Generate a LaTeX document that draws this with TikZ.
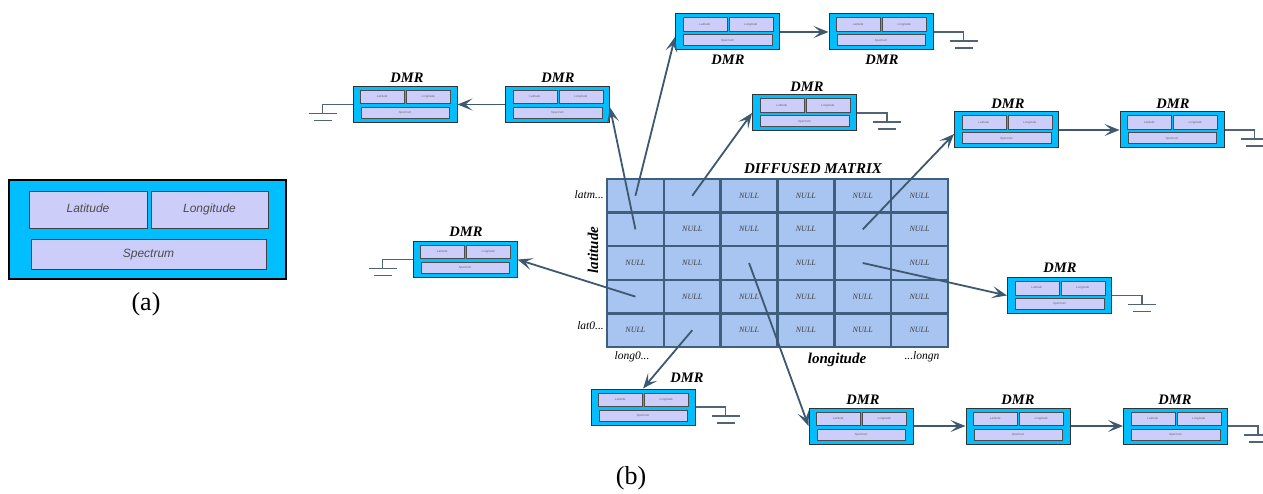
\documentclass[tikz,border=0pt]{standalone}
\usepackage{fontspec}
\setmainfont{Liberation Serif}
\setsansfont{Liberation Sans}
\usetikzlibrary{arrows.meta,calc}
\definecolor{dmrcyan}{RGB}{0,190,255}
\definecolor{dmrlav}{RGB}{205,205,250}
\definecolor{cellblue}{RGB}{168,196,240}
\definecolor{cellline}{RGB}{62,96,126}
\definecolor{arrowc}{RGB}{62,88,112}
\definecolor{gndc}{RGB}{80,100,118}
\tikzset{
 dmrbox/.style={draw=black!80, fill=dmrcyan, line width=1pt, minimum width=104pt, minimum height=36pt, inner sep=0pt},
 dmrin/.style={draw=black!70, fill=dmrlav, line width=0.5pt, inner sep=0pt, font=\sffamily\itshape\fontsize{3}{3}\selectfont, text=black!60, anchor=north west, text height=2.2pt, text depth=0.6pt},
 ain/.style={draw=black!75, fill=dmrlav, line width=0.8pt, inner sep=0pt, font=\sffamily\itshape\fontsize{12}{13}\selectfont, text=black!70, text height=8.6pt, text depth=2.4pt},
 dmrlbl/.style={font=\bfseries\itshape\fontsize{14.5}{15}\selectfont, inner sep=0pt},
 axlbl/.style={font=\bfseries\itshape\fontsize{15}{16}\selectfont, inner sep=0pt},
 smlbl/.style={font=\itshape\fontsize{11.5}{12}\selectfont, inner sep=0pt},
 cell/.style={draw=cellline, fill=cellblue, line width=2.5pt, minimum width=56.83pt, minimum height=33.6pt, inner sep=0pt, font=\itshape\fontsize{8}{9}\selectfont, text=black!75},
 conn/.style={draw=arrowc, line width=1.8pt, -{Stealth[length=15pt,width=12pt,inset=7pt]}},
 gnd/.style={draw=gndc, line width=1.1pt},
 caplbl/.style={font=\fontsize{26}{28}\selectfont, inner sep=0pt},
}
\newcommand{\dmrnode}[3]{%
 \node[dmrbox] (#1) at (#2,#3) {};
 \node[dmrin, minimum width=44pt, minimum height=13.5pt] (#1-lat) at ([xshift=7.5pt,yshift=-4pt]#1.north west) {Latitude};
 \node[dmrin, minimum width=44pt, minimum height=13.5pt] (#1-lon) at ([xshift=53.5pt,yshift=-4pt]#1.north west) {Longitude};
 \node[dmrin, minimum width=88.5pt, minimum height=11pt] (#1-spe) at ([xshift=8pt,yshift=-21pt]#1.north west) {Spectrum};
}
\newcommand{\gndR}[1]{%
 \draw[gnd] (#1.east) -- ++(30,0) coordinate (#1-g) -- ++(0,9);
 \draw[gnd] ([yshift=-9pt,xshift=-14pt]#1-g) -- ++(28,0);
 \draw[gnd] ([yshift=-16pt,xshift=-9pt]#1-g) -- ++(18,0);
}
\newcommand{\gndL}[1]{%
 \draw[gnd] (#1.west) -- ++(-30,0) coordinate (#1-g) -- ++(0,9);
 \draw[gnd] ([yshift=-9pt,xshift=-14pt]#1-g) -- ++(28,0);
 \draw[gnd] ([yshift=-16pt,xshift=-9pt]#1-g) -- ++(18,0);
}
\begin{document}
\begin{tikzpicture}[x=1pt,y=-1pt]
\useasboundingbox (0,0) rectangle (1263,494);
% (a)
\node[draw=black, line width=1.3pt, fill=dmrcyan, minimum width=277pt, minimum height=99pt, inner sep=0pt] (abox) at (147.5,229.5) {};
\node[ain, minimum width=118pt, minimum height=37pt] (alat) at (88,209.5) {Latitude};
\node[ain, minimum width=117pt, minimum height=37pt] (alon) at (209.5,209.5) {Longitude};
\node[ain, minimum width=235pt, minimum height=30pt] (aspe) at (148.5,254) {Spectrum};
\node[caplbl] (acap) at (146,304) {(a)};
\node[caplbl] (bcap) at (631,478) {(b)};
% matrix
\foreach \r/\c/\t in {1/1/{},1/2/{},1/3/NULL,1/4/NULL,1/5/NULL,1/6/NULL,
 2/1/{},2/2/NULL,2/3/NULL,2/4/NULL,2/5/{},2/6/NULL,
 3/1/NULL,3/2/NULL,3/3/{},3/4/NULL,3/5/{},3/6/NULL,
 4/1/{},4/2/NULL,4/3/NULL,4/4/NULL,4/5/NULL,4/6/NULL,
 5/1/NULL,5/2/{},5/3/NULL,5/4/NULL,5/5/NULL,5/6/NULL}
 {\node[cell] (m-\r-\c) at ({607+(\c-0.5)*56.83},{179+(\r-0.5)*33.6}) {\t};}
\node[smlbl, anchor=east] (latm) at (604,195) {latm...};
\node[smlbl, anchor=east] (lat0) at (604,326) {lat0...};
\node[axlbl, rotate=90] (latl) at (593,250) {latitude};
\node[axlbl] (dmt) at (813,169) {DIFFUSED MATRIX};
\node[smlbl] (long0) at (632,357) {long0...};
\node[axlbl] (longl) at (837,360) {longitude};
\node[smlbl] (longn) at (922,357) {...longn};
% DMR units
\dmrnode{A}{405}{104.5}
\dmrnode{B}{557.5}{104.5}
\dmrnode{C}{727.5}{32}
\dmrnode{D}{881}{32}
\dmrnode{E}{804.5}{113}
\dmrnode{F}{1006.5}{130}
\dmrnode{G}{1172}{130}
\dmrnode{H}{1059.5}{295.5}
\dmrnode{L}{465}{259.5}
\dmrnode{M}{643}{407}
\dmrnode{I}{861}{426}
\dmrnode{J}{1018}{426}
\dmrnode{K}{1175.5}{426}
% labels
\node[dmrlbl] (A-t) at (407,78) {DMR};
\node[dmrlbl] (B-t) at (558,78) {DMR};
\node[dmrlbl] (C-t) at (728,60) {DMR};
\node[dmrlbl] (D-t) at (882,60) {DMR};
\node[dmrlbl] (E-t) at (807,87) {DMR};
\node[dmrlbl] (F-t) at (1008,104) {DMR};
\node[dmrlbl] (G-t) at (1173,104) {DMR};
\node[dmrlbl] (H-t) at (1060,268) {DMR};
\node[dmrlbl] (L-t) at (466,232) {DMR};
\node[dmrlbl] (M-t) at (687,378) {DMR};
\node[dmrlbl] (I-t) at (863,400) {DMR};
\node[dmrlbl] (J-t) at (1018,400) {DMR};
\node[dmrlbl] (K-t) at (1175,400) {DMR};
% grounds
\gndL{A}
\gndR{D}
\gndR{E}
\gndR{G}
\gndR{H}
\gndL{L}
\gndR{M}
\gndR{K}
% connectors
\draw[conn] (m-1-1.center) -- ([yshift=-5pt]C.west);
\draw[conn] (m-2-1.center) -- ([yshift=-3pt]B.east);
\draw[conn] (m-1-2.center) -- (E.west);
\draw[conn] (m-2-5.center) -- ([yshift=-4pt]F.west);
\draw[conn] (m-3-5.center) -- (H.west);
\draw[conn] (m-3-3.center) -- (I.west);
\draw[conn] (m-4-1.center) -- (L.east);
\draw[conn] (m-5-2.center) -- (M.north);
\draw[conn] (B.west) -- (A.east);
\draw[conn] (C.east) -- (D.west);
\draw[conn] (F.east) -- (G.west);
\draw[conn] (I.east) -- (J.west);
\draw[conn] (J.east) -- (K.west);
\end{tikzpicture}
\end{document}
